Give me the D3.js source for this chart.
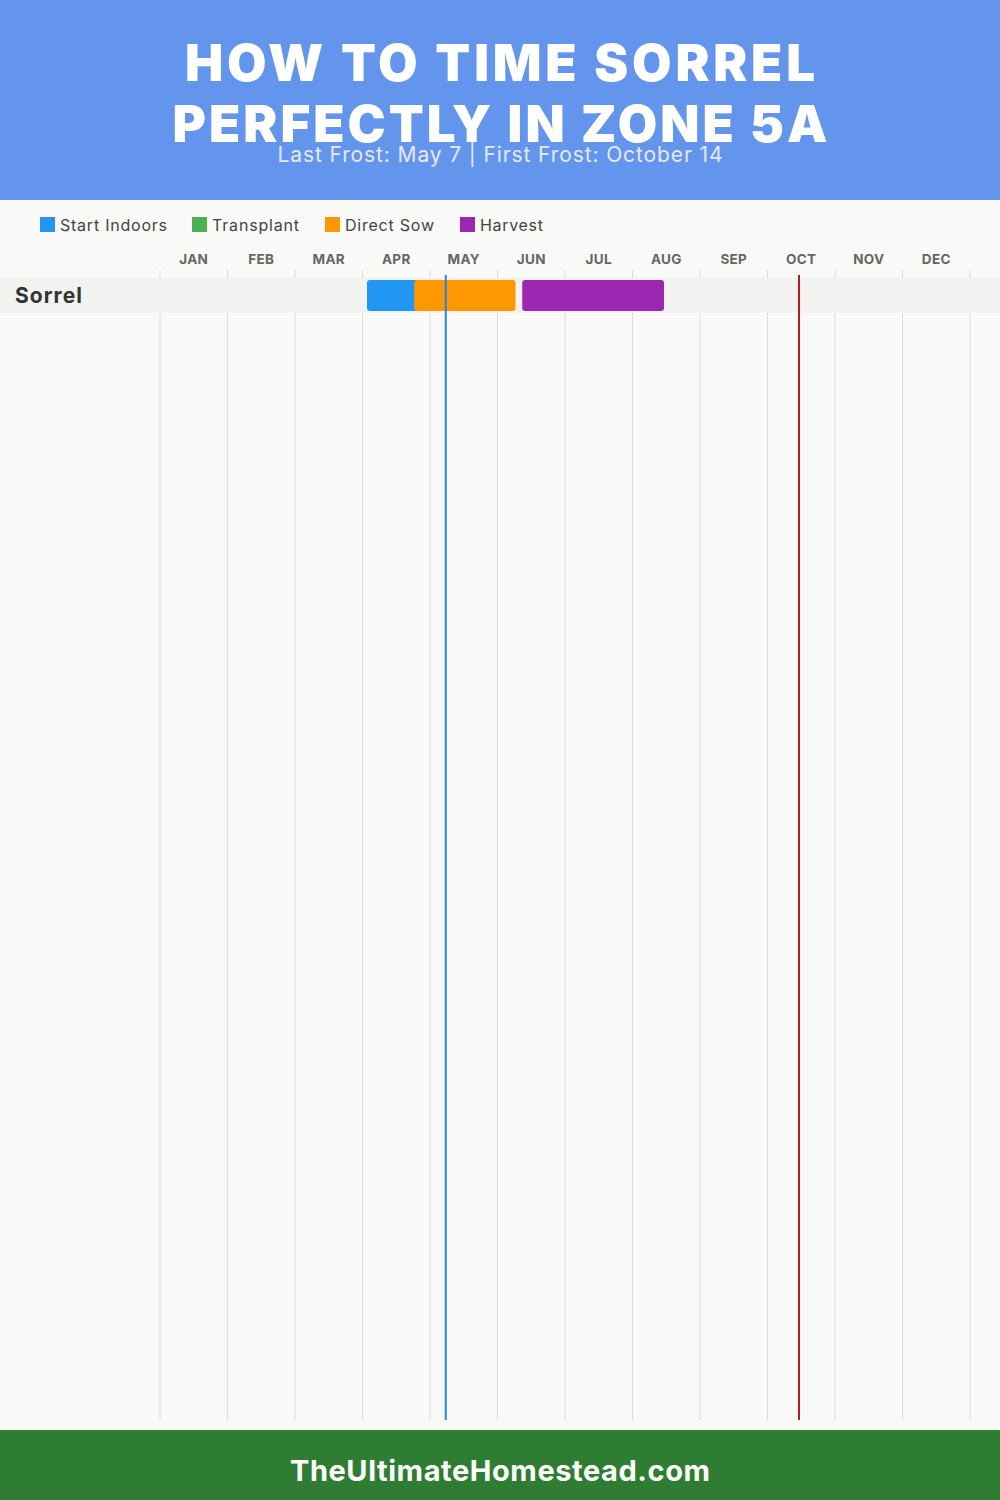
<!DOCTYPE html>
<html><head><meta charset="utf-8">
<script src="https://cdn.jsdelivr.net/npm/d3@7"></script>
<style>body{margin:0;background:#f9f9f7}svg{display:block}</style>
</head><body>
<script>
const months = ["JAN","FEB","MAR","APR","MAY","JUN","JUL","AUG","SEP","OCT","NOV","DEC"];
const crops = ["Sorrel"];
const legendItems = ["Start Indoors","Transplant","Direct Sow","Harvest"];
const legendColors = ["#2196F3","#4CAF50","#FF9800","#9C27B0"];
// [crop, phase, startMonth(0-based), startDay, endMonth, endDay]
const tasks = [
  ["Sorrel","Start Indoors",3,2,3,25],
  ["Sorrel","Direct Sow",3,23,5,8],
  ["Sorrel","Harvest",5,11,7,14]
];
const frosts = [["Last Frost",4,7,"#1E88E5"],["First Frost",9,14,"#B71C1C"]];
const titleLines = ["HOW TO TIME SORREL","PERFECTLY IN ZONE 5A"];
const subtitle = "Last Frost: May 7 | First Frost: October 14";
const footer = "TheUltimateHomestead.com";

const W=1000,H=1500;
const svg=d3.select("body").append("svg").attr("width",W).attr("height",H);
svg.append("rect").attr("width",W).attr("height",H).attr("fill","#f9f9f7");
svg.append("rect").attr("width",W).attr("height",200).attr("fill","#6495ED");
const font="Inter, 'Open Sans', sans-serif";
const titleW=[630,655];
svg.selectAll(".t").data(titleLines).join("text")
  .attr("x",500).attr("y",(d,i)=>81+i*61).attr("text-anchor","middle")
  .attr("fill","#fff").attr("font-family",font).attr("font-weight",900)
  .attr("font-size",51).attr("textLength",(d,i)=>titleW[i]).attr("lengthAdjust","spacing").text(d=>d);
svg.append("text").attr("x",500).attr("y",162).attr("text-anchor","middle")
  .attr("fill","#e6e9f2").attr("font-family",font).attr("font-size",21)
  .attr("textLength",445).attr("lengthAdjust","spacing").text(subtitle);

const color=d3.scaleOrdinal().domain(legendItems).range(legendColors);
const legendX=[40,192,325,460];
const legendW=[107,87,89,63];
const lg=svg.selectAll(".lg").data(legendItems).join("g").attr("transform",(d,i)=>`translate(${legendX[i]},217)`);
lg.append("rect").attr("width",15).attr("height",15).attr("fill",d=>color(d));
lg.append("text").attr("x",20).attr("y",13.5).attr("fill","#444").attr("font-family",font).attr("font-size",16)
  .attr("textLength",(d,i)=>legendW[i]).attr("lengthAdjust","spacing").text(d=>d);

const x=d3.scaleLinear().domain([0,12]).range([160,970]);
const toM=(m,d)=>m+d/30;
const y=d3.scaleBand().domain(crops).range([278,313]);

svg.selectAll(".grid").data(d3.range(13)).join("line")
  .attr("x1",d=>x(d)).attr("x2",d=>x(d)).attr("y1",270).attr("y2",1420)
  .attr("stroke","#dcdcdc").attr("stroke-width",1);
svg.selectAll(".band").data(crops).join("rect").attr("x",0).attr("width",W)
  .attr("y",d=>y(d)).attr("height",y.bandwidth()).attr("fill","#f2f2f1");

svg.selectAll(".ml").data(months).join("text")
  .attr("x",(d,i)=>x(i+0.5)).attr("y",264).attr("text-anchor","middle")
  .attr("fill","#666").attr("font-family",font).attr("font-weight",700).attr("font-size",13.5)
  .attr("letter-spacing",0.3).text(d=>d);

svg.selectAll(".cl").data(crops).join("text").attr("x",15).attr("y",d=>y(d)+y.bandwidth()/2+7.5)
  .attr("fill","#333").attr("font-family",font).attr("font-weight",700).attr("font-size",21)
  .attr("textLength",67).attr("lengthAdjust","spacing").text(d=>d);

svg.selectAll(".bar").data(tasks).join("rect")
  .attr("x",d=>x(toM(d[2],d[3]))).attr("width",d=>x(toM(d[4],d[5]))-x(toM(d[2],d[3])))
  .attr("y",d=>y(d[0])+2).attr("height",y.bandwidth()-4).attr("rx",3)
  .attr("fill",d=>color(d[1]));

svg.selectAll(".fr").data(frosts).join("line")
  .attr("x1",d=>x(toM(d[1],d[2]))).attr("x2",d=>x(toM(d[1],d[2])))
  .attr("y1",275).attr("y2",1420).attr("stroke",d=>d[3]).attr("stroke-width",2);

svg.append("rect").attr("y",1430).attr("width",W).attr("height",70).attr("fill","#2E7D32");
svg.append("text").attr("x",500).attr("y",1481).attr("text-anchor","middle").attr("fill","#fff")
  .attr("font-family",font).attr("font-weight",700).attr("font-size",29)
  .attr("textLength",420).attr("lengthAdjust","spacing").text(footer);
</script>
</body></html>
